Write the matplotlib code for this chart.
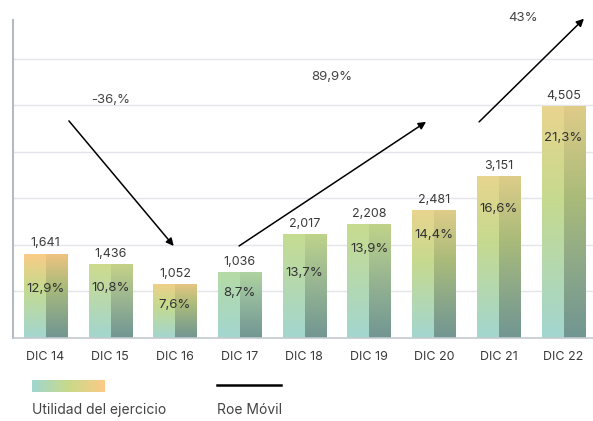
import matplotlib
matplotlib.use("Agg")
import matplotlib.pyplot as plt
import numpy as np
from matplotlib.colors import LinearSegmentedColormap

# datos
periodos = ["DIC 14", "DIC 15", "DIC 16", "DIC 17", "DIC 18", "DIC 19", "DIC 20", "DIC 21", "DIC 22"]
utilidad = [1641, 1436, 1052, 1036, 2017, 2208, 2481, 3151, 4505]
utilidad_txt = ["1,641", "1,436", "1,052", "1,036", "2,017", "2,208", "2,481", "3,151", "4,505"]
# altura de barra (DIC 17 esta dibujada mas alta que su valor)
altura_barra = [1641, 1436, 1052, 1280, 2017, 2208, 2481, 3151, 4505]
roe_txt = ["12,9%", "10,8%", "7,6%", "8,7%", "13,7%", "13,9%", "14,4%", "16,6%", "21,3%"]
variaciones = ["-36,%", "89,9%", "43%"]

# color de la parte superior de cada barra
color_top = ["#fccb86", "#cedb8c", "#f1cf87", "#b6dba6", "#c6dc90",
             "#c8dc8e", "#e9d58f", "#e8d58f", "#e9d48e"]
TEAL = "#a2d6d0"
GREEN = "#c6da8e"

plt.rcParams['font.family'] = ['Inter', 'DejaVu Sans']

fig = plt.figure(figsize=(5.93, 4.21), dpi=100)
ax = fig.add_axes([13 / 593, 1 - 338 / 421, 1 - 13 / 593, 318 / 421])

x = np.arange(len(periodos))
ancho = 0.67

# barras invisibles como base / clip
barras = ax.bar(x, altura_barra, width=ancho, color="none", zorder=2)

n = 256
t = np.linspace(0, 1, n)[:, None]
for i, b in enumerate(barras):
    h = b.get_height()
    top = color_top[i]
    # si el tope es verde no pasa por el verde intermedio
    if top in ("#b6dba6", "#c6dc90", "#c8dc8e", "#cedb8c"):
        cmap = LinearSegmentedColormap.from_list("g", [TEAL, top])
    else:
        cmap = LinearSegmentedColormap.from_list("g", [(0, TEAL), (0.6, GREEN), (1, top)])
    col = cmap(t[:, 0])[:, :3]
    oscuro = col * (0.70 + 0.26 * t)
    img = np.stack([col, oscuro], axis=1)[::-1]
    im = ax.imshow(img, extent=(b.get_x(), b.get_x() + ancho, 0, h),
                   aspect="auto", interpolation="nearest", zorder=2)
    im.set_clip_path(b)

# etiquetas de valor
for i, b in enumerate(barras):
    ax.annotate(utilidad_txt[i], (x[i], b.get_height()), xytext=(0, 3),
                textcoords="offset points", ha="center", va="bottom",
                fontsize=9, color="#3a3a3a", zorder=4)

# ROE dentro de la barra
desplaz_px = [35, 24, 21, 21, 39, 25, 25, 33, 32]
for i, b in enumerate(barras):
    ax.annotate(roe_txt[i], (x[i], b.get_height()), xytext=(0, -desplaz_px[i] * 0.72),
                textcoords="offset points", ha="center", va="center",
                fontsize=9.5, color="#333333", zorder=4)

# flechas de variacion
flecha = dict(arrowstyle="-|>", lw=1.1, color="black", mutation_scale=11,
              shrinkA=0, shrinkB=0)
ax.annotate("", xy=(1.98, 1790), xytext=(0.36, 4223), arrowprops=flecha, zorder=5)
ax.annotate("", xy=(5.88, 4204), xytext=(2.99, 1790), arrowprops=flecha, zorder=5)
ax.annotate("", xy=(8.32, 6210), xytext=(6.70, 4204), arrowprops=flecha,
            zorder=5, annotation_clip=False)
ax.text(1.0, 4620, variaciones[0], ha="center", va="center", fontsize=9.5, color="#444444")
ax.text(4.42, 5070, variaciones[1], ha="center", va="center", fontsize=9.5, color="#444444")
ax.text(7.38, 6230, variaciones[2], ha="center", va="center", fontsize=9.5,
        color="#444444", clip_on=False)

# ejes
paso = 906
ax.set_xlim(-0.504, 8.46)
ax.set_ylim(0, 6185)
ax.set_yticks([paso * k for k in range(1, 7)])
ax.set_yticklabels([])
ax.tick_params(axis="y", length=0)
ax.grid(axis="y", color="#e2e5e9", lw=1, zorder=0)
ax.set_axisbelow(True)
ax.set_xticks(x)
ax.set_xticklabels(periodos, fontsize=9, color="#3a3a3a")
ax.tick_params(axis="x", length=0, pad=9)
for s in ["top", "right"]:
    ax.spines[s].set_visible(False)
ax.spines["left"].set_color("#b3bac2")
ax.spines["left"].set_linewidth(1.5)
ax.spines["bottom"].set_color("#c3c9cf")
ax.spines["bottom"].set_linewidth(1.2)

# leyenda
lax = fig.add_axes([32 / 593, 1 - 392 / 421, 73 / 593, 12 / 421])
cmap_leg = LinearSegmentedColormap.from_list("l", ["#9fd6d0", "#c8da8a", "#fdca86"])
lax.imshow(np.linspace(0, 1, 256)[None, :], cmap=cmap_leg, aspect="auto")
lax.axis("off")
fig.add_artist(plt.Line2D([217 / 593, 281 / 593], [1 - 385 / 421, 1 - 385 / 421],
                          color="black", lw=1.8))
fig.text(32 / 593, 1 - 410 / 421, "Utilidad del ejercicio", fontsize=10,
         color="#444444", va="center")
fig.text(217 / 593, 1 - 410 / 421, "Roe Móvil", fontsize=10,
         color="#444444", va="center")

fig.savefig("out.png", dpi=100)
